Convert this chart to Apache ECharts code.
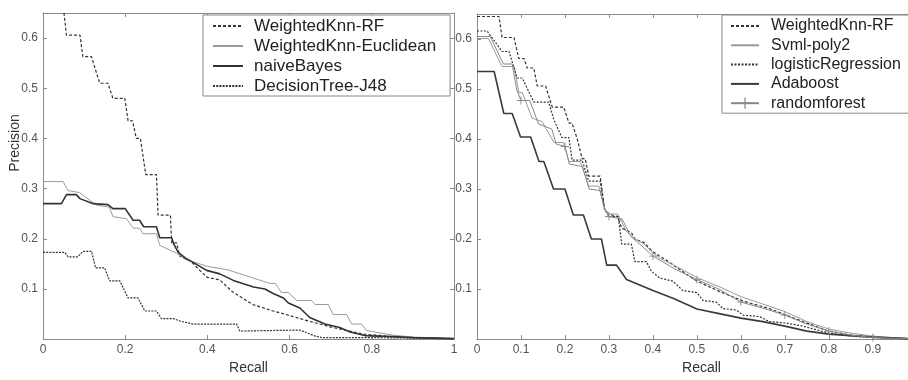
<!DOCTYPE html>
<html><head><meta charset="utf-8">
<script src="https://cdn.jsdelivr.net/npm/echarts@6/dist/echarts.min.js"></script>
<style>html,body{margin:0;padding:0;background:#fff}#c{width:908px;height:380px}</style>
</head><body><div id="c"></div>
<script>
// ---------- Data (recall, precision) ----------
const leftNames = ['WeightedKnn-RF', 'WeightedKnn-Euclidean', 'naiveBayes', 'DecisionTree-J48'];
const rightNames = ['WeightedKnn-RF', 'Svml-poly2', 'logisticRegression', 'Adaboost', 'randomforest'];
const xTicksLeft = [0, 0.2, 0.4, 0.6, 0.8, 1];
const xTicksRight = [0, 0.1, 0.2, 0.3, 0.4, 0.5, 0.6, 0.7, 0.8, 0.9];
const yTicks = [0.1, 0.2, 0.3, 0.4, 0.5, 0.6];

const leftRF = [[0.047,0.68],[0.057,0.606],[0.09,0.606],[0.097,0.563],[0.118,0.563],[0.128,0.536],[0.138,0.51],[0.158,0.51],[0.17,0.48],[0.199,0.48],[0.207,0.435],[0.218,0.435],[0.227,0.40],[0.237,0.40],[0.25,0.328],[0.276,0.328],[0.28,0.247],[0.31,0.247],[0.313,0.192],[0.325,0.192],[0.333,0.165],[0.36,0.155],[0.38,0.138],[0.4,0.123],[0.43,0.118],[0.46,0.095],[0.51,0.069],[0.56,0.056],[0.6,0.047],[0.65,0.035],[0.706,0.023],[0.78,0.01],[0.85,0.005],[0.9,0.003],[1,0.001]];
const leftEuclid = [[0,0.314],[0.049,0.314],[0.061,0.296],[0.089,0.292],[0.13,0.267],[0.162,0.263],[0.17,0.244],[0.203,0.24],[0.22,0.221],[0.235,0.221],[0.243,0.21],[0.276,0.21],[0.284,0.187],[0.325,0.171],[0.35,0.158],[0.4,0.145],[0.45,0.138],[0.503,0.124],[0.552,0.111],[0.565,0.111],[0.58,0.093],[0.597,0.093],[0.617,0.077],[0.653,0.077],[0.662,0.069],[0.694,0.069],[0.706,0.049],[0.739,0.049],[0.751,0.03],[0.775,0.03],[0.787,0.017],[0.85,0.008],[0.9,0.004],[1,0.001]];
const leftNB = [[0,0.27],[0.045,0.27],[0.057,0.288],[0.081,0.288],[0.09,0.28],[0.122,0.27],[0.158,0.268],[0.17,0.26],[0.2,0.26],[0.211,0.247],[0.219,0.237],[0.235,0.237],[0.245,0.224],[0.276,0.224],[0.284,0.202],[0.313,0.202],[0.318,0.19],[0.329,0.173],[0.349,0.16],[0.365,0.153],[0.398,0.137],[0.43,0.13],[0.463,0.117],[0.512,0.104],[0.54,0.1],[0.56,0.091],[0.585,0.082],[0.597,0.072],[0.625,0.062],[0.649,0.043],[0.686,0.03],[0.722,0.023],[0.747,0.014],[0.783,0.007],[0.85,0.005],[0.9,0.003],[1,0.001]];
const leftDT = [[0,0.173],[0.053,0.173],[0.061,0.164],[0.085,0.164],[0.097,0.175],[0.118,0.175],[0.128,0.142],[0.15,0.142],[0.162,0.116],[0.187,0.116],[0.207,0.082],[0.231,0.082],[0.248,0.056],[0.276,0.056],[0.288,0.041],[0.317,0.041],[0.333,0.036],[0.365,0.03],[0.471,0.03],[0.479,0.016],[0.55,0.017],[0.625,0.018],[0.662,0.006],[0.68,0.003],[0.8,0.003],[1,0.001]];

const rightRF = [[0,0.645],[0.05,0.645],[0.057,0.603],[0.084,0.603],[0.095,0.561],[0.107,0.561],[0.114,0.542],[0.129,0.542],[0.137,0.506],[0.156,0.506],[0.171,0.464],[0.197,0.464],[0.209,0.432],[0.216,0.432],[0.227,0.403],[0.231,0.403],[0.239,0.361],[0.246,0.361],[0.254,0.326],[0.28,0.326],[0.29,0.26],[0.3,0.25],[0.32,0.245],[0.329,0.222],[0.351,0.213],[0.359,0.2],[0.38,0.193],[0.397,0.177],[0.416,0.165],[0.427,0.16],[0.461,0.139],[0.5,0.116],[0.552,0.095],[0.605,0.076],[0.665,0.061],[0.703,0.048],[0.741,0.035],[0.8,0.016],[0.85,0.008],[0.9,0.004],[0.98,0.001]];
const rightSvm = [[0,0.601],[0.026,0.601],[0.057,0.545],[0.085,0.545],[0.095,0.493],[0.103,0.493],[0.125,0.442],[0.148,0.435],[0.175,0.393],[0.197,0.393],[0.209,0.355],[0.235,0.355],[0.254,0.306],[0.277,0.306],[0.29,0.26],[0.3,0.25],[0.32,0.25],[0.34,0.215],[0.36,0.2],[0.38,0.19],[0.4,0.172],[0.416,0.161],[0.461,0.142],[0.5,0.123],[0.55,0.105],[0.6,0.085],[0.65,0.07],[0.7,0.055],[0.75,0.035],[0.8,0.02],[0.85,0.012],[0.9,0.006],[0.98,0.001]];
const rightLR = [[0,0.616],[0.023,0.616],[0.057,0.575],[0.073,0.575],[0.091,0.522],[0.103,0.522],[0.11,0.509],[0.129,0.474],[0.163,0.474],[0.175,0.438],[0.193,0.403],[0.209,0.403],[0.216,0.358],[0.239,0.358],[0.254,0.316],[0.28,0.316],[0.29,0.26],[0.3,0.245],[0.321,0.245],[0.329,0.19],[0.351,0.19],[0.359,0.155],[0.385,0.155],[0.397,0.135],[0.416,0.122],[0.445,0.116],[0.468,0.097],[0.5,0.093],[0.514,0.077],[0.544,0.074],[0.559,0.061],[0.59,0.058],[0.605,0.048],[0.642,0.045],[0.665,0.035],[0.703,0.032],[0.741,0.026],[0.8,0.012],[0.85,0.006],[0.9,0.003],[0.98,0.001]];
const rightAda = [[0,0.535],[0.039,0.535],[0.061,0.451],[0.08,0.451],[0.099,0.404],[0.122,0.404],[0.141,0.355],[0.152,0.355],[0.174,0.3],[0.2,0.3],[0.219,0.248],[0.242,0.248],[0.26,0.2],[0.283,0.2],[0.295,0.148],[0.317,0.148],[0.34,0.119],[0.4,0.097],[0.447,0.081],[0.5,0.06],[0.545,0.052],[0.6,0.042],[0.65,0.035],[0.7,0.026],[0.75,0.016],[0.8,0.01],[0.9,0.004],[0.98,0.001]];
const rightRFo = [[0,0.605],[0.03,0.605],[0.06,0.55],[0.08,0.55],[0.09,0.5],[0.1,0.477],[0.12,0.477],[0.14,0.43],[0.17,0.42],[0.18,0.39],[0.2,0.385],[0.21,0.35],[0.24,0.345],[0.255,0.3],[0.28,0.297],[0.29,0.26],[0.3,0.245],[0.33,0.24],[0.35,0.205],[0.37,0.19],[0.4,0.166],[0.45,0.14],[0.5,0.119],[0.55,0.1],[0.6,0.074],[0.65,0.062],[0.7,0.048],[0.75,0.03],[0.8,0.016],[0.85,0.008],[0.9,0.003],[0.98,0.001]];
const rfMarkerRecalls = [0.1, 0.2, 0.3, 0.4, 0.5, 0.6, 0.7, 0.8, 0.9];

// ---------- Chart ----------
const FONT = 'Liberation Sans';
const AXIS_COL = '#8a8a8a';
const PLUS = 'path://M4,0h1v9h-1z M0,4h9v1h-9z';

function lineSeries(name, data, idx, color, width, type, extra) {
  return Object.assign({
    type: 'line', name: name, xAxisIndex: idx, yAxisIndex: idx,
    data: data, symbol: 'none', showSymbol: false, silent: true, animation: false,
    lineStyle: { color: color, width: width, type: type },
    itemStyle: { color: color }
  }, extra || {});
}

function xAx(grid, max, interval, showLabels, pos, namePad) {
  return {
    type: 'value', gridIndex: grid, min: 0, max: max, interval: interval, position: pos,
    axisLine: { show: true, onZero: false, lineStyle: { color: AXIS_COL, width: 1 } },
    axisTick: { show: true, inside: true, length: 4, lineStyle: { color: AXIS_COL } },
    splitLine: { show: false },
    axisLabel: { show: showLabels, margin: 5, fontFamily: FONT, fontSize: 12, color: '#555', showMaxLabel: max === 1 },
    name: showLabels ? 'Recall' : '', nameLocation: 'middle', nameGap: 17,
    nameTextStyle: { fontFamily: FONT, fontSize: 14, color: '#333', padding: namePad || 0 }
  };
}
function yAx(grid, showLabels, pos) {
  return {
    type: 'value', gridIndex: grid, min: 0, max: 0.65, interval: 0.1, position: pos,
    axisLine: { show: true, onZero: false, lineStyle: { color: AXIS_COL, width: 1 } },
    axisTick: { show: true, inside: true, length: 4, lineStyle: { color: AXIS_COL } },
    splitLine: { show: false },
    axisLabel: { show: showLabels, margin: 5, fontFamily: FONT, fontSize: 12, color: '#555', showMinLabel: false, showMaxLabel: false }
  };
}

const rfData = rightRFo.map(function (p) {
  const isMarker = rfMarkerRecalls.indexOf(p[0]) >= 0;
  return isMarker ? { value: p } : { value: p, symbol: 'none' };
});

const chart = echarts.init(document.getElementById('c'), null, { renderer: 'canvas' });
chart.setOption({
  animation: false,
  backgroundColor: '#fff',
  textStyle: { fontFamily: FONT },
  grid: [
    { left: 43, right: 454, top: 13, bottom: 33 },
    { left: 477, right: 0, top: 14, bottom: 30 }
  ],
  xAxis: [
    xAx(0, 1, 0.2, true, 'bottom'),
    xAx(1, 0.98, 0.1, true, 'bottom', [0, 0, 0, 18]),
    xAx(0, 1, 0.2, false, 'top'),
    xAx(1, 0.98, 0.1, false, 'top')
  ],
  yAxis: [
    yAx(0, true, 'left'),
    yAx(1, true, 'left'),
    yAx(0, false, 'right')
  ],
  legend: [
    {
      orient: 'vertical', left: 203, top: 15, selectedMode: false,
      backgroundColor: '#fff', borderColor: '#888', borderWidth: 1, borderRadius: 0,
      padding: [2, 14, 1, 9], itemGap: 2, itemWidth: 30, itemHeight: 14,
      itemStyle: { opacity: 0 },
      textStyle: { fontFamily: FONT, fontSize: 17, color: '#222', lineHeight: 18, padding: [0, 0, 0, 6] },
      data: leftNames
    },
    {
      orient: 'vertical', left: 722, top: 15, selectedMode: false,
      backgroundColor: '#fff', borderColor: '#888', borderWidth: 1, borderRadius: 0,
      padding: [2, 14, 1, 8], itemGap: 1.3, itemWidth: 28, itemHeight: 14,
      itemStyle: { opacity: 0 },
      textStyle: { fontFamily: FONT, fontSize: 16, color: '#222', lineHeight: 18, padding: [0, 0, 0, 7] },
      data: rightNames.map(function (n) { return n === 'randomforest' ? { name: n, itemStyle: { opacity: 1 } } : { name: n }; })
    }
  ],
  graphic: [{
    type: 'text', x: 15, y: 143, rotation: Math.PI / 2,
    style: { text: 'Precision', fontFamily: FONT, fontSize: 14, fill: '#333', textAlign: 'center', textVerticalAlign: 'middle' }
  }],
  series: [
    lineSeries(leftNames[0], leftRF, 0, '#333', 1.2, [3, 2]),
    lineSeries(leftNames[1], leftEuclid, 0, '#9a9a9a', 1, 'solid'),
    lineSeries(leftNames[2], leftNB, 0, '#333', 1.6, 'solid'),
    lineSeries(leftNames[3], leftDT, 0, '#333', 1.2, [2, 1.2]),
    lineSeries(rightNames[0], rightRF, 1, '#333', 1.2, [3, 2]),
    lineSeries(rightNames[1], rightSvm, 1, '#9a9a9a', 1, 'solid'),
    lineSeries(rightNames[2], rightLR, 1, '#333', 1.2, [2, 1.5]),
    lineSeries(rightNames[3], rightAda, 1, '#3a3a3a', 1.6, 'solid'),
    lineSeries(rightNames[4], rfData, 1, '#888', 1, 'solid', {
      symbol: PLUS, symbolSize: 8, showSymbol: true, showAllSymbol: true
    })
  ]
});
</script></body></html>
